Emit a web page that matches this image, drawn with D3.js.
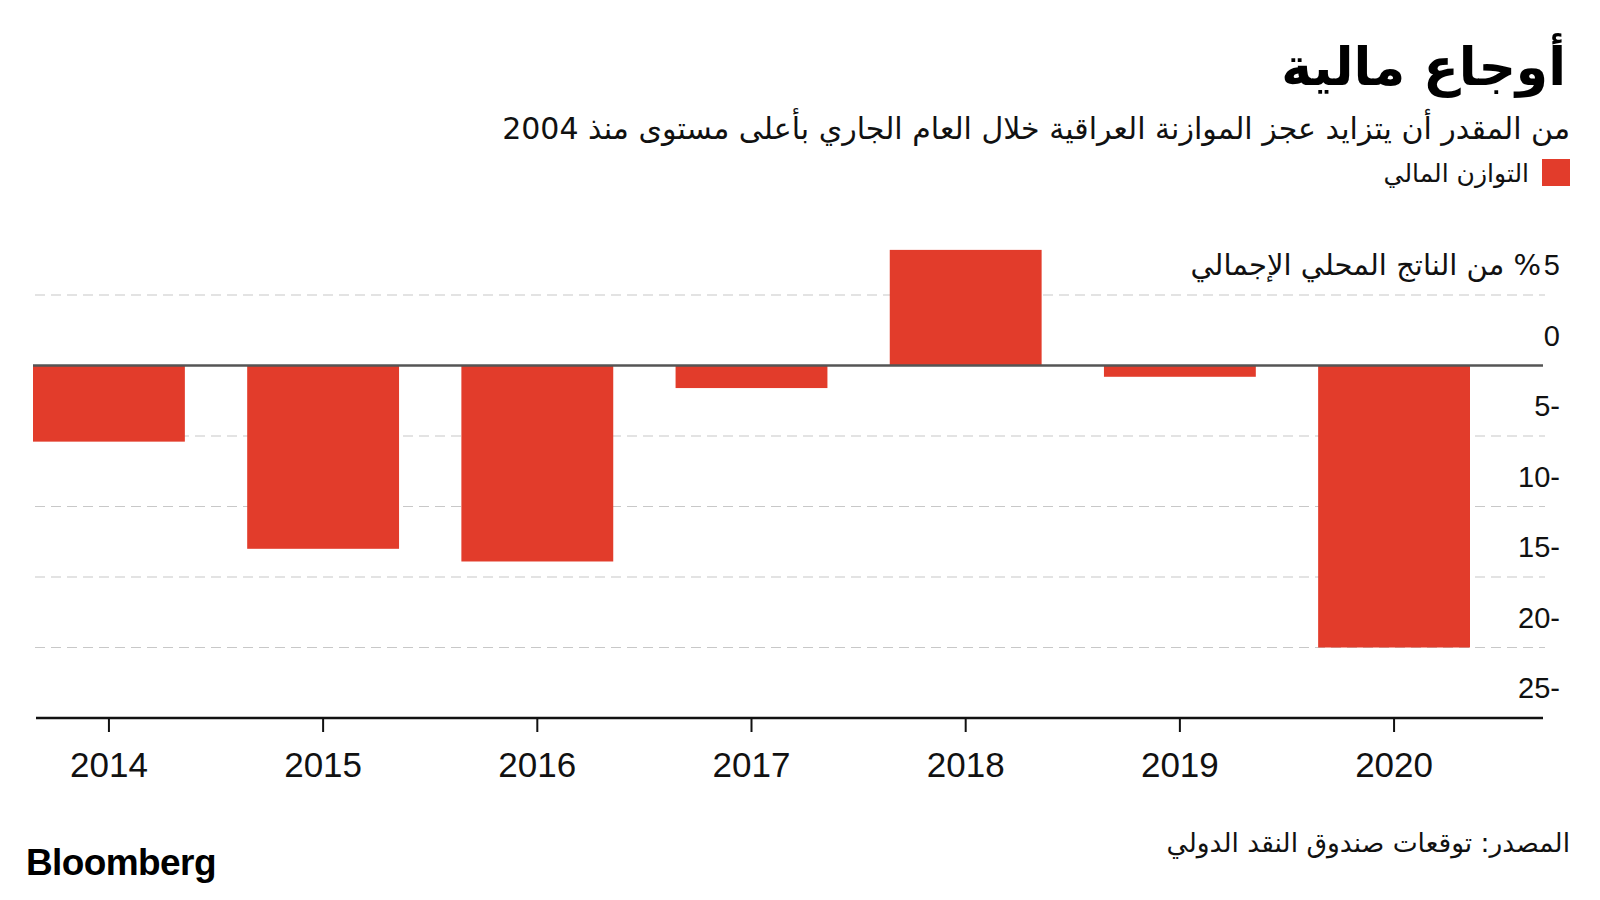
<!DOCTYPE html>
<html>
<head>
<meta charset="utf-8">
<script src="https://cdn.jsdelivr.net/npm/d3@7"></script>
<style>
  body { margin: 0; background: #fff; }
  svg { display: block; }
</style>
</head>
<body>
<svg id="chart"></svg>
<script>
// data
var years = ['2014', '2015', '2016', '2017', '2018', '2019', '2020'];
var balance = [-5.4, -13.0, -13.9, -1.6, 8.2, -0.8, -20.0];
var yTicks = [5, 0, -5, -10, -15, -20, -25];

var title = 'أوجاع مالية';
var subtitle = 'من المقدر أن يتزايد عجز الموازنة العراقية خلال العام الجاري بأعلى مستوى منذ 2004';
var legendLabel = 'التوازن المالي';
var unitLabel = '% من الناتج المحلي الإجمالي';
var source = 'المصدر: توقعات صندوق النقد الدولي';

var W = 1600, H = 900;
var red = '#e23c2b';
var arabicFont = '"DejaVu Sans", sans-serif';
var numFont = '"Liberation Sans", Arial, sans-serif';

var svg = d3.select('#chart')
  .attr('width', W)
  .attr('height', H);

var x = d3.scaleBand()
  .domain(years)
  .range([33, 1470])
  .paddingInner(0.291)
  .paddingOuter(0);

var y = d3.scaleLinear()
  .domain([-25, 5])
  .range([718, 295]);

// header
svg.append('text')
  .attr('x', 1566).attr('y', 85)
  .attr('direction', 'rtl').attr('text-anchor', 'start')
  .attr('font-family', arabicFont).attr('font-weight', 'bold')
  .attr('font-size', 52).attr('fill', '#000')
  .text(title);

svg.append('text')
  .attr('x', 1570).attr('y', 139)
  .attr('direction', 'rtl').attr('text-anchor', 'start')
  .attr('font-family', arabicFont)
  .attr('font-size', 30).attr('fill', '#111')
  .text(subtitle);

svg.append('rect')
  .attr('x', 1542).attr('y', 159)
  .attr('width', 28).attr('height', 27)
  .attr('fill', red);

svg.append('text')
  .attr('x', 1529).attr('y', 182)
  .attr('direction', 'rtl').attr('text-anchor', 'start')
  .attr('font-family', arabicFont)
  .attr('font-size', 25).attr('fill', '#111')
  .text(legendLabel);

// gridlines
var grid = yTicks.filter(function(d) { return d !== 0 && d !== -25; });
svg.append('g').selectAll('line').data(grid).enter().append('line')
  .attr('x1', 35).attr('x2', 1545)
  .attr('y1', function(d) { return y(d); })
  .attr('y2', function(d) { return y(d); })
  .attr('stroke', '#c8c8c8')
  .attr('stroke-width', 1.2)
  .attr('stroke-dasharray', '10,6');

// bars
svg.append('g').selectAll('rect').data(balance).enter().append('rect')
  .attr('x', function(d, i) { return x(years[i]); })
  .attr('y', function(d) { return y(Math.max(0, d)); })
  .attr('width', x.bandwidth())
  .attr('height', function(d) { return Math.abs(y(d) - y(0)); })
  .attr('fill', red);

// zero line
svg.append('line')
  .attr('x1', 33).attr('x2', 1543)
  .attr('y1', y(0)).attr('y2', y(0))
  .attr('stroke', '#555').attr('stroke-width', 2.5);

// y tick labels (right side, sitting above their lines)
svg.append('g').selectAll('text').data(yTicks).enter().append('text')
  .attr('x', 1560)
  .attr('y', function(d) { return y(d) - 20; })
  .attr('text-anchor', 'end')
  .attr('font-family', numFont)
  .attr('font-size', 29).attr('fill', '#111')
  .text(function(d) { return d < 0 ? (-d) + '-' : String(d); });

svg.append('text')
  .attr('x', 1541)
  .attr('y', y(5) - 20)
  .attr('direction', 'rtl').attr('text-anchor', 'start')
  .attr('font-family', arabicFont)
  .attr('font-size', 29).attr('fill', '#111')
  .text(unitLabel);

// x axis
var xAxis = svg.append('g')
  .attr('transform', 'translate(0,' + y(-25) + ')')
  .call(d3.axisBottom(x).tickSize(14).tickPadding(20));
xAxis.select('.domain').remove();
xAxis.selectAll('.tick line').attr('stroke', '#111').attr('stroke-width', 2);
xAxis.selectAll('.tick text')
  .attr('font-family', numFont)
  .attr('font-size', 35).attr('fill', '#111');
xAxis.append('line')
  .attr('x1', 36).attr('x2', 1543)
  .attr('y1', 0).attr('y2', 0)
  .attr('stroke', '#111').attr('stroke-width', 2.5);

// footer
svg.append('text')
  .attr('x', 1570).attr('y', 852)
  .attr('direction', 'rtl').attr('text-anchor', 'start')
  .attr('font-family', arabicFont)
  .attr('font-size', 26.5).attr('fill', '#111')
  .text(source);

svg.append('text')
  .attr('x', 26).attr('y', 875)
  .attr('font-family', numFont).attr('font-weight', 'bold')
  .attr('font-size', 37).attr('letter-spacing', -0.6)
  .attr('fill', '#000')
  .text('Bloomberg');
</script>
</body>
</html>
